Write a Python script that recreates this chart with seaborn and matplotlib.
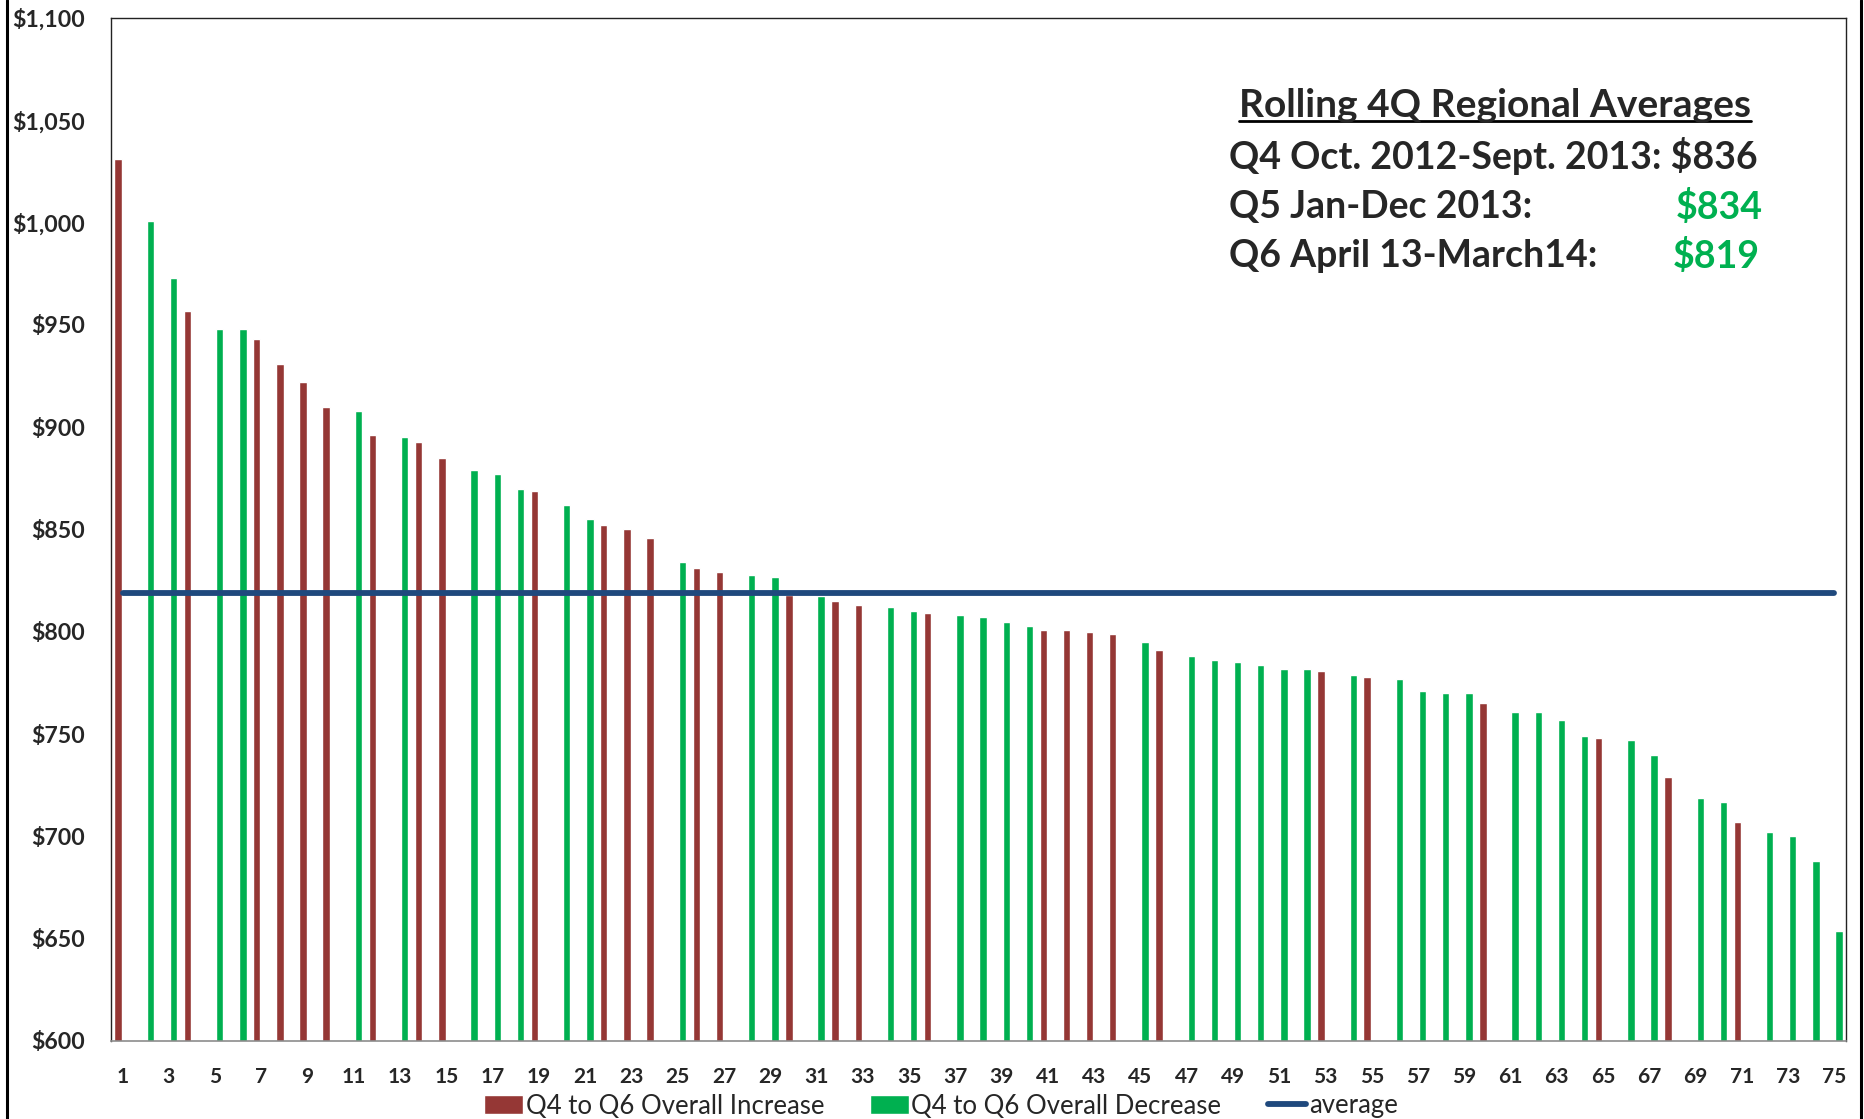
import numpy as np
import pandas as pd
import seaborn as sns
import matplotlib
matplotlib.use("Agg")
import matplotlib.pyplot as plt
from matplotlib.lines import Line2D
from matplotlib.ticker import FuncFormatter, MultipleLocator

# Regional average cost, ranked 1-75 (Q6 rolling four quarters)
regions = [str(i) for i in range(1, 76)]
cost = [1031, 1001, 973, 957, 948, 948, 943, 931, 922, 910,
        908, 896, 895, 893, 885, 879, 877, 870, 869, 862,
        855, 852, 850, 846, 834, 831, 829, 828, 827, 818,
        817.5, 815, 813, 812, 810, 809, 808, 807, 805, 803,
        801, 801, 800, 799, 795, 791, 788, 786, 785, 784,
        782, 782, 781, 779, 778, 777, 771, 770, 770, 765,
        761, 761, 757, 749, 748, 747, 740, 729, 719, 717,
        707, 702, 700, 688, 654]
# Direction of change from Q4 to Q6: "I" = increase, "D" = decrease
direction = ["I", "D", "D", "I", "D", "D", "I", "I", "I", "I",
             "D", "I", "D", "I", "I", "D", "D", "D", "I", "D",
             "D", "I", "I", "I", "D", "I", "I", "D", "D", "I",
             "D", "I", "I", "D", "D", "I", "D", "D", "D", "D",
             "I", "I", "I", "I", "D", "I", "D", "D", "D", "D",
             "D", "D", "I", "D", "I", "D", "D", "D", "D", "I",
             "D", "D", "D", "D", "I", "D", "D", "I", "D", "D",
             "I", "D", "D", "D", "D"]

series_names = ["Q4 to Q6 Overall Increase", "Q4 to Q6 Overall Decrease"]
avg_label = "average"

# Rolling 4Q regional averages
period_labels = ["Q4 Oct. 2012-Sept. 2013:", "Q5 Jan-Dec 2013:", "Q6 April 13-March14:"]
period_values = [836, 834, 819]
average_value = period_values[-1]

RED = "#953735"
GREEN = "#00B050"
NAVY = "#1F497D"

df = pd.DataFrame({
    "region": regions,
    "cost": cost,
    "change": [series_names[0] if d == "I" else series_names[1] for d in direction],
})

sns.set_style("white")
plt.rcParams["font.family"] = ["Lato", "DejaVu Sans"]
plt.rcParams["font.weight"] = "bold"

W, H = 1865, 1119
fig = plt.figure(figsize=(W / 100, H / 100), dpi=100)
ax = fig.add_axes([111 / W, 1 - 1041 / H, (1846 - 111) / W, (1041 - 18) / H])

sns.barplot(data=df, x="region", y="cost", hue="change", order=regions,
            hue_order=series_names,
            palette={series_names[0]: RED, series_names[1]: GREEN},
            width=0.8, gap=0.2, dodge=True, errorbar=None, legend=False,
            saturation=1, ax=ax)

xpos = np.arange(len(regions))
avg_line, = ax.plot(xpos, np.full(len(regions), average_value), color=NAVY,
                    lw=4.2, solid_capstyle="round", label=avg_label, zorder=5)

ax.set_ylim(600, 1100)
ax.set_xlim(-0.5, len(regions) - 0.5)
ax.yaxis.set_major_locator(MultipleLocator(50))
ax.yaxis.set_major_formatter(FuncFormatter(lambda v, p: f"${v:,.0f}"))
ax.set_xticks(xpos[::2])
ax.set_xticklabels(regions[::2])
ax.set_xlabel("")
ax.set_ylabel("")
ax.tick_params(axis="y", length=0, pad=18.6, labelsize=16.7)
ax.tick_params(axis="x", length=0, pad=19, labelsize=15)

for side in ["top", "left", "right"]:
    ax.spines[side].set_color("#222222")
    ax.spines[side].set_linewidth(1.0)
ax.spines["bottom"].set_color("#8c8c8c")
ax.spines["bottom"].set_linewidth(1.2)

# Legend under the axis
handles = [ax.containers[0], ax.containers[1], avg_line]
fig.legend(handles, series_names + [avg_label], loc="center",
           bbox_to_anchor=(941 / W, 1 - 1106 / H), ncol=3, frameon=False,
           prop={"size": 18.5, "weight": "normal"}, handlelength=1.5,
           handleheight=0.8, handletextpad=0.1, columnspacing=1.8)

# Summary block in the upper right
title = fig.text(1495 / W, 1 - 117 / H, "Rolling 4Q Regional Averages",
                 ha="center", va="baseline", fontsize=28, fontweight="bold")
row_y = [156, 207, 256]
fig.text(1229 / W, 1 - row_y[0] / H, f"{period_labels[0]} ${period_values[0]}",
         ha="left", va="center", fontsize=27, fontweight="bold")
for lbl, val, y, xr in zip(period_labels[1:], period_values[1:], row_y[1:], [1763, 1760]):
    fig.text(1229 / W, 1 - y / H, lbl, ha="left", va="center",
             fontsize=27, fontweight="bold")
    fig.text(xr / W, 1 - y / H, f"${val}", ha="right", va="center",
             fontsize=27, fontweight="bold", color=GREEN)

fig.canvas.draw()
bb = title.get_window_extent()
uy = (1119 - 121) / H
fig.add_artist(Line2D([bb.x0 / W, bb.x1 / W], [uy, uy], transform=fig.transFigure,
                      color="black", lw=2.0))

# Outer frame edges
for x in (7, 1861):
    fig.add_artist(Line2D([x / W, x / W], [0, 1], transform=fig.transFigure,
                          color="black", lw=2.2))

fig.savefig("out.png", dpi=100)
